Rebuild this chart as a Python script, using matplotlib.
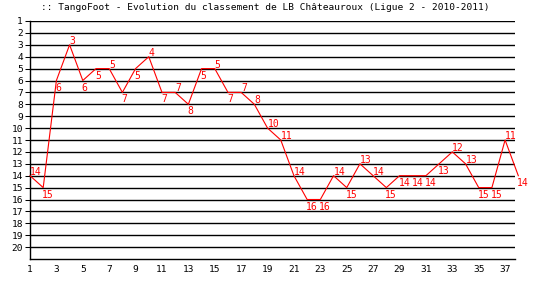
import matplotlib
matplotlib.use("Agg")
import matplotlib.pyplot as plt

# Classement de LB Châteauroux, journée par journée
rounds = list(range(1, 39))
ranks = [14, 15, 6, 3, 6, 5, 5, 7, 5, 4, 7, 7, 8, 5, 5, 7, 7, 8, 10, 11,
         14, 16, 16, 14, 15, 13, 14, 15, 14, 14, 14, 13, 12, 13, 15, 15, 11, 14]
x_ticks = list(range(1, 38, 2))
y_ticks = list(range(1, 21))
title = ":: TangoFoot - Evolution du classement de LB Châteauroux (Ligue 2 - 2010-2011)"

plt.rcParams['font.family'] = ['DejaVu Sans Mono']

fig = plt.figure(figsize=(5.4, 3.0), dpi=100)
ax = fig.add_axes([30 / 540, 41 / 300, 485 / 540, 238 / 300])

ax.set_xlim(1, 37.75)
ax.set_ylim(21, 1)

# horizontal lines for every rank
for r in y_ticks:
    ax.axhline(r, color='black', lw=1.0, zorder=1)

ax.plot(rounds, ranks, color='red', lw=0.8, clip_on=False, zorder=3)

# label above when the next rank is worse, below otherwise
for i, (x, r) in enumerate(zip(rounds, ranks)):
    nxt = ranks[i + 1] if i + 1 < len(ranks) else None
    if nxt is not None and nxt > r:
        ax.annotate(str(r), (x, r), xytext=(0, 1), textcoords='offset pixels',
                    ha='left', va='baseline', color='red', fontsize=7,
                    annotation_clip=False, zorder=4)
    else:
        ax.annotate(str(r), (x, r), xytext=(-1, -2), textcoords='offset pixels',
                    ha='left', va='top', color='red', fontsize=7,
                    annotation_clip=False, zorder=4)

ax.set_yticks(y_ticks)
ax.set_yticklabels([str(t) for t in y_ticks])
ax.set_xticks(x_ticks)
ax.set_xticklabels([str(t) for t in x_ticks])
ax.tick_params(axis='y', length=3.6, width=0.75, pad=1.5, labelsize=6.8)
ax.tick_params(axis='x', length=0, pad=4, labelsize=6.8)
ax.set_xticks([1], minor=True)
ax.tick_params(axis='x', which='minor', length=3, width=0.75)

for s in ['top', 'right']:
    ax.spines[s].set_visible(False)
ax.spines['left'].set_linewidth(1.0)
ax.spines['bottom'].set_linewidth(1.0)

fig.text(265 / 540, 1 - 7 / 300, title, ha='center', va='center', fontsize=6.8)

fig.savefig('out.png', dpi=100, facecolor='white')
